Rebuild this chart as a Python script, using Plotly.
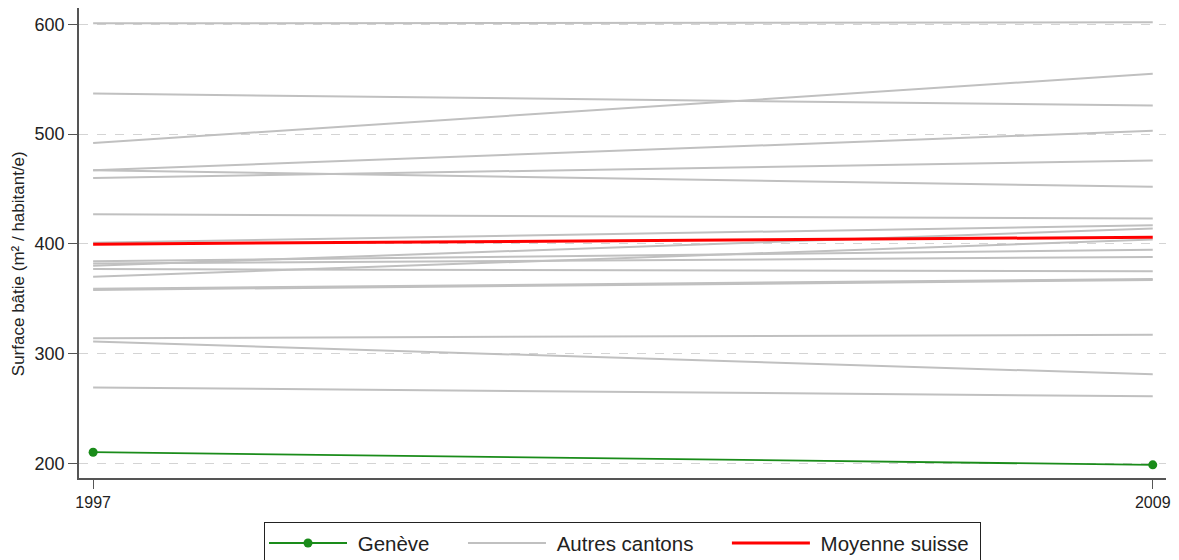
import plotly.graph_objects as go

years = [1997, 2009]

# surface bâtie par habitant, autres cantons (1997, 2009)
autres_1997 = [601, 537, 492, 467, 467, 460, 427, 401, 380, 384, 370, 382, 377, 359, 358, 314, 311, 269]
autres_2009 = [602, 526, 555, 503, 452, 476, 423, 417, 414, 394.5, 404, 388, 375, 368, 367, 317, 281, 261]

geneve = [210, 198.5]
moyenne = [399.7, 406]

y_ticks = [200, 300, 400, 500, 600]

GRAY = "#c0c0c0"
RED = "#ff0000"
GREEN = "#1a8c1a"
AXIS = "#555555"
NB = "\u00a0"

fig = go.Figure()

for i, (a, b) in enumerate(zip(autres_1997, autres_2009)):
    fig.add_trace(go.Scatter(
        x=years, y=[a, b], mode="lines",
        line=dict(color=GRAY, width=2),
        name=NB + "Autres cantons" + NB * 5, legendgroup="autres",
        showlegend=(i == 0), legendrank=2,
    ))

fig.add_trace(go.Scatter(
    x=years, y=moyenne, mode="lines",
    line=dict(color=RED, width=3),
    name=NB + "Moyenne suisse" + NB, legendrank=3,
))

fig.add_trace(go.Scatter(
    x=years, y=geneve, mode="lines+markers",
    line=dict(color=GREEN, width=1.8),
    marker=dict(color=GREEN, size=9),
    name=NB + "Genève" + NB * 5, legendrank=1,
))

# page body has an 8px margin, so the figure is sized and offset for it
fig.update_layout(
    width=1171, height=552,
    paper_bgcolor="white", plot_bgcolor="white",
    font=dict(family="Liberation Sans, Arial, sans-serif", color="#222222", size=14),
    margin=dict(l=71, r=13, t=0, b=82, autoexpand=False),
    showlegend=True,
    legend=dict(
        orientation="h", x=0.5, xanchor="center", y=-0.094, yanchor="top",
        bordercolor="#222222", borderwidth=1, bgcolor="white",
        font=dict(size=20.5, color="#222222"),
        itemwidth=78,
    ),
    annotations=[dict(
        text="Surface bâtie (m² / habitant/e)", textangle=-90,
        xref="paper", yref="paper", x=-0.0561, y=0.455,
        xanchor="center", yanchor="middle", showarrow=False,
        font=dict(size=17, color="#222222"),
    )],
)

fig.update_xaxes(
    range=[1996.84, 2009.15], automargin=False,
    tickvals=years, ticktext=[str(y) for y in years],
    showgrid=False, zeroline=False,
    showline=True, linecolor=AXIS, linewidth=1.5,
    ticks="outside", ticklen=9, tickcolor=AXIS,
    tickfont=dict(size=16),
)

fig.update_yaxes(
    range=[186.5, 615], automargin=False,
    tickvals=y_ticks,
    showgrid=True, gridcolor="#d4d4d4", griddash="dash", gridwidth=1,
    zeroline=False,
    showline=True, linecolor=AXIS, linewidth=1.5,
    ticks="outside", ticklen=9, tickcolor=AXIS,
    tickfont=dict(size=18),
)

fig.write_html("out.html")
